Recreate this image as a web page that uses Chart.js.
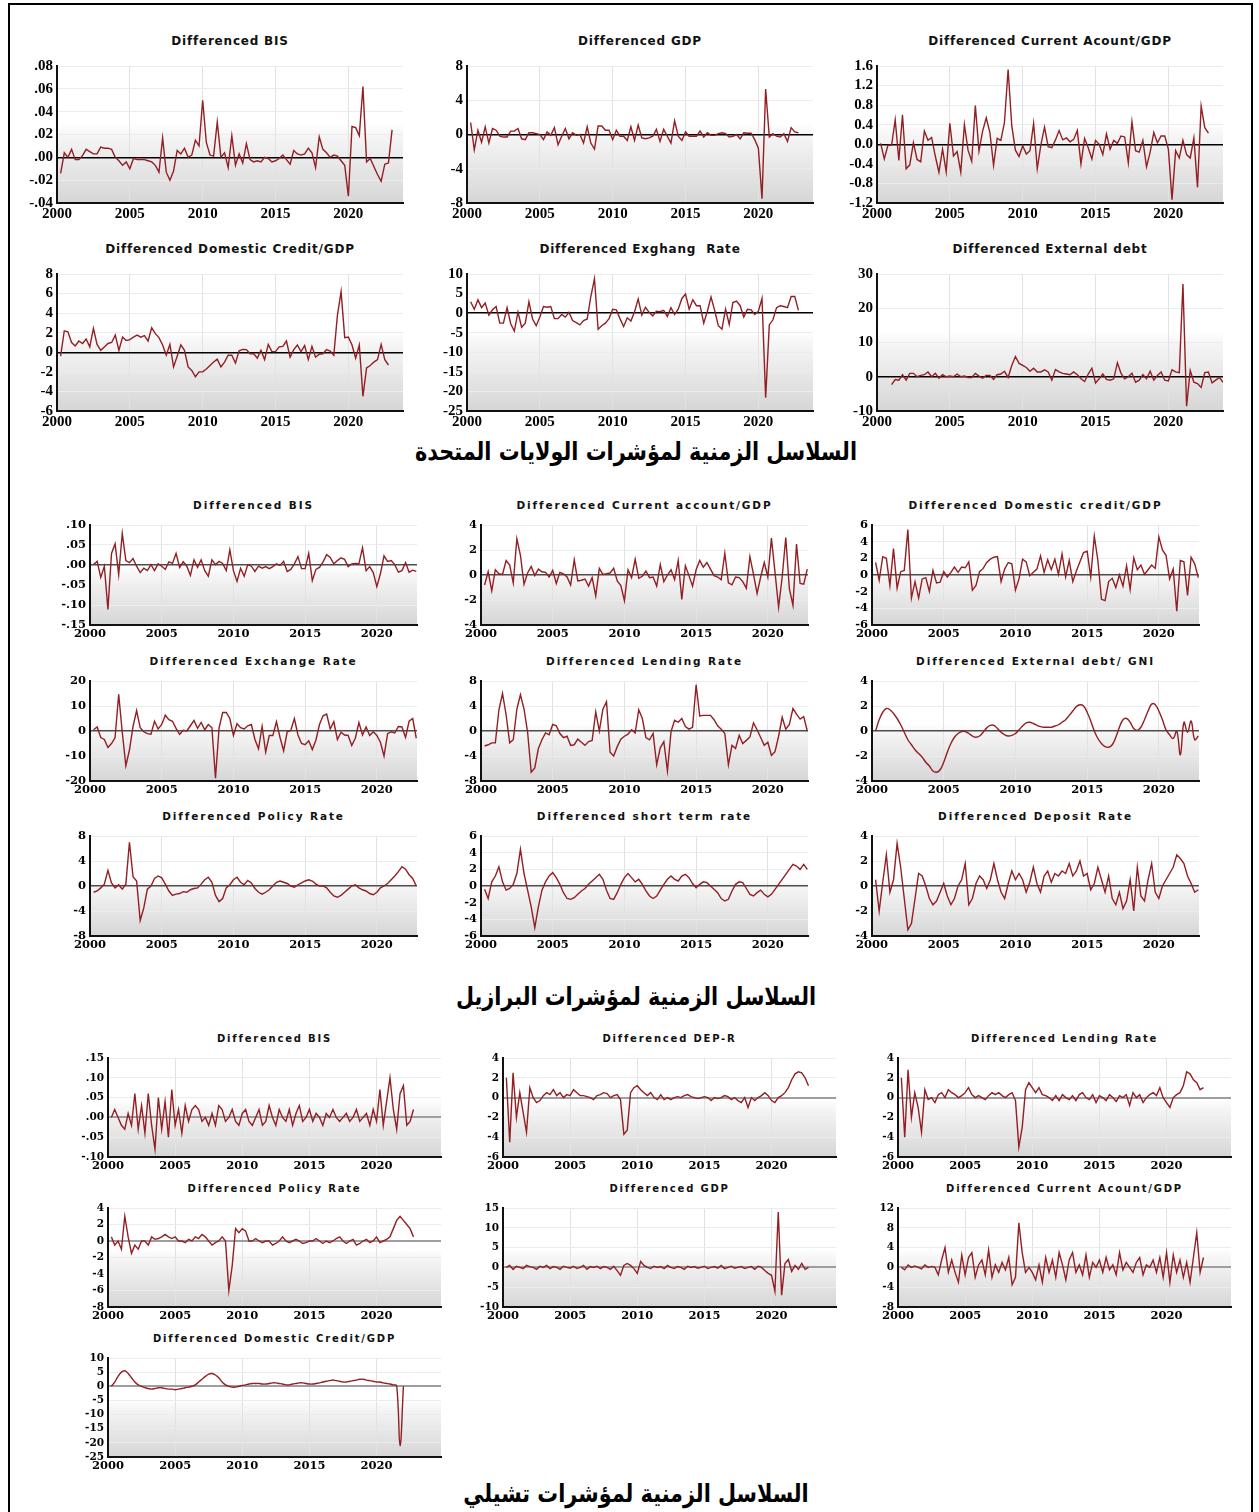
<!DOCTYPE html>
<html>
<head>
<meta charset="utf-8">
<title>Differenced macro-financial series</title>
<script src="https://cdn.jsdelivr.net/npm/chart.js@4/dist/chart.umd.min.js"></script>
<style>
  html, body { margin: 0; padding: 0; background: #fff; }
  body { position: relative; width: 1259px; height: 1512px; overflow: hidden; }
  .frame { position: absolute; left: 8px; top: 3px; width: 1245px; height: 1600px; border: 2px solid #000; box-sizing: border-box; }
  canvas { position: absolute; }
  .ttl { position: absolute; white-space: pre; font-family: "DejaVu Sans", Verdana, sans-serif; font-weight: bold; color: #111; transform: translateX(-50%); line-height: 16px; }
  .ar { position: absolute; left: 636px; transform: translateX(-50%) scaleX(0.83); white-space: nowrap; direction: rtl; font-family: "DejaVu Sans", sans-serif; font-weight: bold; font-size: 25px; line-height: 30px; color: #000; }
</style>
</head>
<body>
<div class="frame"></div>
<div class="ar" style="top:437px">السلاسل الزمنية لمؤشرات الولايات المتحدة</div>
<div class="ar" style="top:982px">السلاسل الزمنية لمؤشرات البرازيل</div>
<div class="ar" style="top:1479px">السلاسل الزمنية لمؤشرات تشيلي</div>
<script>
// ---------- x-axis tick labels (years) ----------
const yearTicks = [2000, 2005, 2010, 2015, 2020];

// ---------- y-axis tick labels ----------
const usBisTicks  = [".08", ".06", ".04", ".02", ".00", "-.02", "-.04"];
const usGdpTicks  = ["8", "4", "0", "-4", "-8"];
const usCaTicks   = ["1.6", "1.2", "0.8", "0.4", "0.0", "-0.4", "-0.8", "-1.2"];
const usDcTicks   = ["8", "6", "4", "2", "0", "-2", "-4", "-6"];
const usExTicks   = ["10", "5", "0", "-5", "-10", "-15", "-20", "-25"];
const usEdTicks   = ["30", "20", "10", "0", "-10"];

const brBisTicks  = [".10", ".05", ".00", "-.05", "-.10", "-.15"];
const brCaTicks   = ["4", "2", "0", "-2", "-4"];
const brDcTicks   = ["6", "4", "2", "0", "-2", "-4", "-6"];
const brExTicks   = ["20", "10", "0", "-10", "-20"];
const brLrTicks   = ["8", "4", "0", "-4", "-8"];
const brEdTicks   = ["4", "2", "0", "-2", "-4"];
const brPolTicks  = ["8", "4", "0", "-4", "-8"];
const brStTicks   = ["6", "4", "2", "0", "-2", "-4", "-6"];
const brDepTicks  = ["4", "2", "0", "-2", "-4"];

const clBisTicks  = [".15", ".10", ".05", ".00", "-.05", "-.10"];
const clDepTicks  = ["4", "2", "0", "-2", "-4", "-6"];
const clLrTicks   = ["4", "2", "0", "-2", "-4", "-6"];
const clPolTicks  = ["4", "2", "0", "-2", "-4", "-6", "-8"];
const clGdpTicks  = ["15", "10", "5", "0", "-5", "-10"];
const clCaTicks   = ["12", "8", "4", "0", "-4", "-8"];
const clDcTicks   = ["10", "5", "0", "-5", "-10", "-15", "-20", "-25"];

// ---------- quarterly series (first differences) ----------
// United States, from 2000Q2
const usBIS = [-0.014, 0.004, 0.0, 0.007, -0.002, -0.002, 0.0015, 0.007, 0.005, 0.003,
  0.003, 0.009, 0.008, 0.008, 0.007, 0.0, -0.003, -0.007, -0.004, -0.010,
  -0.001, -0.002, -0.002, -0.002, -0.003, -0.004, -0.007, -0.013, 0.017, -0.013,
  -0.020, -0.012, 0.006, 0.003, 0.008, 0.0, 0.002, 0.015, 0.010, 0.050,
  0.013, 0.002, 0.001, 0.031, 0.0, 0.004, -0.009, 0.019, -0.007, 0.003,
  -0.005, 0.012, -0.002, -0.004, -0.003, -0.004, 0.0, -0.001, -0.004, -0.003,
  -0.001, 0.002, -0.002, -0.006, 0.006, 0.003, 0.002, 0.003, 0.008, 0.004,
  -0.009, 0.018, 0.007, 0.004, 0.0, 0.002, 0.001, -0.003, -0.007, -0.034,
  0.027, 0.026, 0.019, 0.062, -0.004, -0.001, -0.008, -0.015, -0.021, -0.006,
  -0.005, 0.024];
const usGDP = [1.4, -1.8, 0.5, -0.9, 0.9, -1.0, 0.7, 0.5, -0.2, -0.3,
  -0.3, 0.4, 0.4, 0.7, -0.5, -0.6, 0.2, 0.2, 0.1, 0.0,
  -0.6, 0.3, -0.1, 0.8, -1.2, -0.2, 0.7, -0.5, 0.2, -0.1,
  0.0, -1.0, 0.9, -1.0, -1.7, 1.0, 1.0, 0.5, 0.5, -0.6,
  0.5, -0.2, -0.2, -0.7, 0.9, -0.7, 1.1, -0.4, -0.5, -0.4,
  -0.2, 0.6, -0.8, 0.6, -0.2, -1.0, 1.6, -0.2, -0.7, 0.3,
  -0.2, -0.2, -0.2, 0.4, -0.3, 0.2, -0.1, -0.1, 0.1, 0.2,
  0.1, -0.3, -0.2, 0.0, -0.5, 0.2, 0.15, 0.15, -0.6, -1.6,
  -7.5, 5.3, -0.3, 0.1, -0.2, -0.3, 0.1, -0.8, 0.8, 0.3, 0.2];
const usCA = [0.02, -0.3, -0.02, -0.02, 0.5, -0.33, 0.6, -0.5, -0.42, 0.03,
  -0.31, -0.36, 0.27, 0.08, 0.14, -0.24, -0.57, -0.1, -0.56, 0.43,
  -0.24, -0.15, -0.57, 0.4, -0.12, -0.35, 0.79, -0.14, 0.27, 0.54,
  0.24, -0.43, 0.12, 0.08, 0.45, 1.53, 0.38, -0.12, -0.25, -0.03,
  -0.2, -0.13, 0.43, -0.5, -0.01, 0.35, -0.05, -0.07, 0.09, 0.28,
  0.09, 0.13, 0.05, 0.1, 0.28, -0.4, 0.12, -0.07, -0.3, 0.08,
  0.0, -0.21, 0.21, -0.1, 0.08, 0.02, 0.17, 0.15, -0.38, 0.46,
  -0.13, -0.16, 0.08, -0.46, -0.16, 0.24, 0.03, 0.17, 0.17, -0.1,
  -1.13, -0.13, -0.28, 0.08, -0.21, -0.28, 0.13, -0.88, 0.78, 0.34, 0.23];
const usDC = [-0.4, 2.2, 2.1, 1.0, 0.65, 1.15, 0.9, 1.35, 0.55, 2.45,
  0.8, 0.2, 0.55, 0.9, 1.0, 1.75, 0.2, 1.55, 1.2, 1.3,
  1.55, 1.75, 1.55, 1.7, 1.15, 2.5, 1.9, 1.5, 0.75, -0.3,
  0.8, -1.5, -0.4, 0.75, 0.2, -1.5, -1.85, -2.5, -2.0, -2.0,
  -1.7, -1.35, -1.0, -0.7, -1.5, -1.0, -0.3, -0.3, -1.1, 0.15,
  0.3, 0.27, -0.15, -0.15, -0.6, 0.2, -0.75, 0.8, 0.07, 0.07,
  0.55, 0.6, 1.15, -0.5, 0.27, 0.75, 0.07, 0.68, -0.75, 0.6,
  -0.5, -0.2, -0.15, 0.27, 0.13, -0.3, 3.8, 6.2, 1.5, 1.55,
  0.75, -0.6, 0.75, -4.5, -1.6, -1.35, -1.0, -0.75, 0.8, -0.75, -1.3];
const usEX = [2.9, 1.0, 3.4, 1.4, 2.6, -0.5, 0.85, 1.7, -2.55, -2.55,
  1.4, -2.7, -4.6, 0.3, -3.6, -2.55, 2.9, -1.5, -3.2, -1.0,
  1.7, 1.5, 1.7, -1.4, -1.4, -0.35, -1.0, 0.2, -1.9, -2.4,
  -3.0, -1.9, -1.5, 4.25, 8.8, -4.1, -3.2, -2.55, -1.4, 1.0,
  0.85, -1.4, -3.4, -1.2, -2.0, 0.35, 3.6, -0.5, 1.5, 0.2,
  -0.7, 0.5, 0.35, 0.7, -0.85, 1.4, -0.35, 1.0, 3.75, 4.9,
  1.0, 3.4, 1.9, 1.9, -2.55, 0.5, 4.1, 0.7, -3.2, -4.1,
  1.0, -2.9, 2.7, 3.1, 1.9, -1.0, 1.0, 0.85, -0.35, 0.5,
  3.75, -21.6, -3.0, -1.7, 1.4, 1.9, 1.7, 1.4, 4.25, 4.25, 0.7];
// United States external debt, from 2001Q1
const usED = [-2.3, -0.8, -1.0, 0.6, -1.0, 1.0, 1.0, 0.0, 0.4, 0.6,
  1.4, 0.0, 1.0, -0.4, 0.6, 0.0, 0.2, 0.0, 0.8, 0.0,
  0.2, -0.2, -0.2, 1.0, 0.2, -0.4, 0.4, 0.4, -0.8, 0.6,
  0.8, 1.6, -0.2, 3.3, 5.9, 3.9, 3.3, 2.7, 1.6, 2.5,
  1.4, 1.4, 2.0, 1.4, -1.0, 2.1, 1.4, 1.0, 0.8, 0.6,
  1.4, 0.6, -0.6, -1.4, 0.8, 2.5, -1.8, -0.6, 0.8, -0.8,
  -1.0, -0.6, 4.1, 1.0, -0.6, 0.0, 1.0, -1.6, -1.0, 0.6,
  -0.6, 1.6, -1.0, 0.4, 1.4, -1.0, -1.2, 2.0, 1.4, 1.2,
  27.1, -8.6, 1.8, -1.6, -2.0, -3.1, 1.2, 1.4, -1.8, -1.0,
  -0.2, -1.6];

// Brazil, from 2000Q2
const brBIS = [0.001, 0.009, -0.031, -0.003, -0.111, 0.029, 0.053, -0.024, 0.079, 0.011,
  0.006, 0.016, -0.003, -0.019, -0.008, -0.014, 0.001, -0.014, 0.003, -0.003,
  -0.011, 0.008, 0.004, 0.029, -0.006, 0.008, -0.003, -0.026, 0.013, -0.006,
  0.013, -0.014, -0.028, 0.013, 0.001, 0.009, 0.004, -0.014, 0.038, -0.014,
  -0.041, -0.008, -0.028, 0.001, -0.003, -0.016, -0.003, -0.008, -0.004, -0.009,
  -0.004, 0.003, -0.001, 0.009, -0.016, -0.011, 0.003, 0.021, -0.009, -0.009,
  0.029, -0.039, -0.011, -0.006, 0.008, 0.026, 0.019, 0.003, 0.011, 0.018,
  0.014, -0.004, 0.003, 0.004, 0.003, 0.043, -0.014, -0.004, -0.019, -0.054,
  -0.022, 0.023, 0.009, 0.011, 0.001, -0.018, -0.014, 0.006, -0.018, -0.013, -0.016];
const brCA = [-0.8, 0.26, -1.26, 0.42, 0.1, 0.05, 1.16, 0.79, -0.63, 2.9,
  1.58, -0.74, 0.16, 0.68, -0.05, 0.47, 0.26, 0.21, -0.16, 0.37,
  -0.68, 0.21, 0.1, -0.16, -0.8, 1.21, -0.47, -0.42, -0.32, -0.89,
  -0.21, -1.68, 0.53, 0.05, 0.1, 0.16, 0.53, -0.47, -0.84, -2.05,
  0.42, -0.21, 1.26, -0.26, -0.1, 0.32, -0.21, -0.16, -0.89, 0.84,
  -0.53, 0.0, 0.42, -0.37, 1.16, -1.95, 0.74, -0.05, -0.89, 0.42,
  1.16, 0.63, 1.0, 0.47, -0.05, -0.16, -0.37, 1.74, -0.63, -0.79,
  -0.16, -0.21, -0.53, -1.05, 1.47, 0.05, -1.47, -0.16, 1.0, -0.16,
  2.95, 0.21, -2.58, -0.16, 3.0, -1.1, -2.42, 2.47, -0.68, -0.74, 0.47];
const brDC = [1.5, -0.63, 2.2, 2.0, -1.26, 3.16, -1.58, 0.4, 0.55, 5.45,
  -2.77, -0.8, -2.77, -0.47, -0.32, -1.98, 0.55, -0.95, -0.87, 0.4,
  -0.24, 0.32, 0.95, 0.32, 0.95, 0.87, 1.58, -1.82, -1.26, 0.4,
  0.79, 1.5, 1.9, 2.13, 2.2, -0.8, 0.71, 1.5, 1.34, -1.82,
  -0.47, 1.9, 1.58, -0.08, 0.32, 0.71, 2.29, 0.32, 1.82, 0.63,
  1.9, 0.08, 2.53, -0.24, 1.74, -0.8, 0.47, 1.58, 2.69, 2.85,
  -0.24, 4.66, 1.74, -2.92, -3.08, -0.79, -0.4, -1.5, 0.0, -1.34,
  1.1, -1.74, 2.05, 0.63, 1.19, 0.08, 0.63, 1.19, 0.79, 4.58,
  3.0, 2.37, -0.47, 0.71, -4.35, 1.74, 1.58, -2.45, 2.13, 1.34, -0.32];
const brEX = [0.5, 1.6, -2.6, -3.4, -6.6, -5.0, -2.6, 14.7, -0.5, -13.9,
  -7.6, 1.8, 8.2, 1.3, -0.3, -1.05, -1.3, 3.9, 0.8, 2.6,
  6.3, 4.5, 3.9, 1.05, -1.3, 0.26, 0.0, 2.1, 4.2, 1.05,
  3.4, 0.5, 2.6, 1.3, -18.9, 1.3, 7.4, 7.4, 5.0, -1.8,
  2.9, 1.3, 0.8, 2.1, 2.6, -3.4, -7.1, 1.8, -8.4, -1.8,
  -1.8, 3.7, -2.6, -7.9, -0.3, 0.26, 5.0, -1.6, -5.0, -5.5,
  -3.9, -7.4, -3.7, 2.6, 6.1, 6.8, 0.8, 3.7, -3.4, -0.5,
  -1.6, -1.8, -5.8, -2.9, 3.4, -1.6, 1.6, -1.8, -0.3, -1.8,
  -4.5, -10.0, -1.05, -0.3, -0.8, 1.8, 1.6, -2.6, 3.9, 5.0, -2.9];
const brLR = [-2.4, -2.2, -1.9, -1.9, 3.4, 6.0, 2.6, -1.9, -1.4, 3.5,
  5.8, 3.5, -0.2, -6.6, -5.9, -2.8, -1.4, -0.3, -0.6, 1.05,
  0.84, -0.4, -1.05, -0.84, -2.3, -2.2, -1.3, -1.8, -2.3, -1.7,
  -1.5, 3.05, 0.0, 3.5, 4.7, -3.4, -4.0, -2.5, -1.3, -0.84,
  -0.5, 0.2, -0.3, 3.4, 2.0, -1.05, -1.4, -0.4, -5.4, -2.7,
  -1.7, -6.4, -0.1, 1.7, 1.4, 2.0, 0.7, 0.3, 0.6, 7.4,
  2.4, 2.5, 2.5, 2.5, 1.8, 0.84, 0.3, -0.4, -5.4, -2.3,
  -2.8, -0.7, -2.0, -1.5, -0.95, 1.3, 0.2, -1.05, -2.3, -1.8,
  -3.9, -3.3, -0.84, 2.2, 0.3, 1.05, 3.6, 2.7, 1.9, 2.3, 0.0];
const brEDG = [0.0, 0.9, 1.5, 1.8, 1.7, 1.4, 1.0, 0.5, -0.1, -0.7,
  -1.1, -1.5, -1.8, -2.1, -2.5, -2.8, -3.2, -3.3, -3.1, -2.5,
  -1.7, -1.0, -0.5, -0.2, -0.05, -0.05, -0.2, -0.4, -0.5, -0.4,
  -0.1, 0.25, 0.45, 0.45, 0.2, -0.1, -0.3, -0.4, -0.35, -0.2,
  0.1, 0.4, 0.65, 0.7, 0.6, 0.45, 0.35, 0.3, 0.3, 0.3,
  0.4, 0.5, 0.7, 0.9, 1.25, 1.6, 1.95, 2.1, 2.0, 1.5,
  0.8, 0.0, -0.6, -1.0, -1.25, -1.3, -1.1, -0.5, 0.3, 0.9,
  1.0, 0.7, 0.2, 0.05, 0.3, 0.9, 1.6, 2.15, 2.1, 1.6,
  0.9, 0.1, -0.3, -0.6, 0.0, -1.9, 0.7, -0.1, 0.8, -0.7, -0.4];
const brPOL = [-1.0, -0.8, -0.3, 0.3, 2.5, 0.5, -0.3, 0.2, -0.5, 0.3,
  7.0, 1.5, 0.8, -5.5, -3.5, -0.5, 0.0, 1.2, 1.6, 1.3,
  0.3, -0.8, -1.5, -1.3, -1.2, -0.9, -1.0, -0.6, -0.4, -0.3,
  0.3, 1.0, 1.4, 0.6, -1.5, -2.5, -2.0, -0.3, 0.2, 1.0,
  1.4, 0.6, 0.2, 0.9, 0.5, -0.4, -1.0, -1.3, -1.0, -0.6,
  0.0, 0.6, 0.8, 0.6, 0.4, 0.0, -0.2, 0.2, 0.5, 0.8,
  1.0, 0.8, 0.3, 0.0, 0.0, -0.3, -1.0, -1.6, -1.8, -1.5,
  -1.0, -0.5, 0.0, 0.2, -0.3, -0.6, -0.8, -1.2, -1.4, -1.0,
  -0.3, 0.0, 0.4, 1.0, 1.6, 2.3, 3.1, 2.7, 1.8, 1.2, 0.0];
const brST = [-0.4, -1.5, 0.5, 1.2, 2.3, 0.5, -0.5, -0.3, 0.2, 1.5,
  4.4, 1.5, -0.5, -2.5, -5.0, -2.5, -0.5, 0.5, 1.2, 1.6,
  1.0, 0.2, -0.8, -1.5, -1.6, -1.4, -1.0, -0.6, -0.3, 0.2,
  0.6, 1.0, 1.4, 0.8, -0.5, -1.5, -1.6, -0.8, 0.2, 1.0,
  1.5, 1.0, 0.5, 0.8, 0.2, -0.6, -1.2, -1.5, -1.2, -0.5,
  0.2, 0.8, 1.2, 0.8, 0.6, 1.2, 1.4, 1.0, 0.3, -0.2,
  0.2, 0.5, 0.4, 0.0, -0.4, -0.8, -1.5, -1.8, -1.6, -0.6,
  0.2, 0.5, 0.4, -0.3, -1.0, -1.2, -0.8, -0.5, -1.0, -1.3,
  -1.0, -0.4, 0.2, 0.8, 1.4, 2.0, 2.6, 2.4, 2.0, 2.6, 2.0];
const brDEP = [0.5, -2.0, 0.3, 2.5, -0.5, 0.5, 3.4, 1.5, -1.0, -3.5,
  -3.0, -1.0, 1.0, 0.8, 0.0, -1.0, -1.5, -1.2, -0.5, 0.2,
  -0.8, -1.5, -1.0, 0.0, 0.5, 1.8, -1.5, -1.0, 0.2, 0.8,
  0.5, -0.2, 0.5, 1.8, 0.5, -0.5, -1.0, 0.2, 1.2, 0.5,
  1.0, 0.5, -0.5, 0.3, 1.5, 0.2, -0.5, 0.8, 1.2, 0.3,
  1.0, 0.8, 1.2, 1.0, 1.8, 0.8, 1.2, 2.0, 0.8, 1.0,
  -0.3, 0.2, 1.5, 0.5, -0.5, 0.8, -1.0, -1.5, -0.5, -1.8,
  -1.2, 0.5, -2.0, 1.5, -0.8, -1.2, 0.5, 1.8, -0.5, -1.0,
  0.0, 0.5, 1.0, 1.5, 2.5, 2.2, 1.8, 0.8, 0.2, -0.5, -0.3];

// Chile, from 2000Q2
const clBIS = [0.0, 0.02, 0.0, -0.02, -0.03, 0.01, -0.02, 0.06, -0.03, 0.03,
  -0.04, 0.06, -0.02, -0.08, 0.05, -0.03, 0.04, -0.05, 0.07, -0.02,
  0.02, -0.04, 0.03, -0.01, 0.02, 0.03, 0.02, -0.01, 0.0, -0.02,
  0.01, -0.02, 0.03, 0.02, -0.01, 0.0, 0.02, -0.01, -0.02, 0.01,
  0.02, -0.01, -0.02, 0.0, 0.02, -0.02, -0.01, 0.03, 0.0, -0.02,
  0.02, 0.0, -0.01, 0.02, -0.02, 0.01, 0.03, -0.01, 0.0, 0.02,
  -0.01, 0.01, 0.0, -0.02, 0.01, 0.0, 0.02, 0.0, -0.01, 0.0,
  0.01, -0.01, 0.0, 0.02, -0.01, 0.0, 0.01, -0.02, 0.02, -0.01,
  0.07, -0.02, 0.04, 0.10, 0.02, -0.03, 0.06, 0.08, -0.02, -0.01, 0.02];
const clDEP = [2.0, -4.5, 2.5, -2.0, 0.5, -1.5, -3.5, 1.0, 0.0, -0.5,
  -0.3, 0.2, 0.5, 0.3, 0.8, 0.2, 0.5, 0.0, 0.3, 0.2,
  0.8, 0.5, 0.2, 0.2, 0.1, 0.0, -0.2, 0.2, 0.3, 0.5,
  0.4, 0.0, 0.2, 0.3, -0.2, -3.7, -3.3, 0.5, 1.0, 1.2,
  0.8, 0.5, 0.2, 0.5, 0.0, -0.2, 0.3, -0.2, 0.0, -0.2,
  0.0, 0.1, 0.0, 0.2, 0.3, 0.1, 0.0, -0.1, 0.0, 0.1,
  0.0, -0.3, 0.0, -0.1, 0.0, 0.2, 0.1, -0.2, 0.0, -0.3,
  -0.5, 0.0, -1.0, 0.0, -0.3, 0.0, 0.2, 0.5, 0.2, -0.3,
  -0.5, 0.0, 0.2, 0.5, 1.0, 1.8, 2.4, 2.6, 2.5, 2.0, 1.2];
const clLR = [2.0, -4.0, 2.8, -2.0, 0.5, -1.0, -3.5, 0.8, -0.2, 0.0,
  -0.5, 0.3, 0.5, 0.0, 0.8, 0.5, 0.3, 0.0, 0.2, 0.5,
  1.0, 0.3, 0.0, 0.2, 0.0, -0.2, 0.2, 0.5, 0.3, 0.5,
  0.2, 0.0, 0.3, 0.5, -0.3, -5.0, -3.0, 0.8, 1.5, 1.0,
  0.5, 1.0, 0.3, 0.2, 0.0, -0.3, 0.2, -0.3, 0.3, 0.0,
  -0.2, 0.2, -0.3, 0.3, 0.5, 0.0, -0.2, 0.3, -0.5, 0.2,
  0.0, -0.3, 0.3, 0.0, -0.4, 0.2, 0.0, 0.3, -0.8, 0.5,
  0.0, 0.3, -0.5, 0.0, 0.3, 0.5, 0.2, 1.0, 0.0, -0.5,
  -1.0, 0.0, 0.3, 0.5, 1.2, 2.6, 2.4, 1.8, 1.5, 0.8, 1.0];
const clPOL = [0.5, -0.5, 0.0, -1.0, 3.0, 0.5, -1.5, -0.5, -1.0, 0.0,
  0.0, -0.5, 0.5, 0.2, 0.3, 0.5, 0.8, 0.5, 0.3, 0.5,
  0.0, 0.0, -0.2, 0.2, 0.0, 0.5, 0.3, 0.8, 0.5, 0.0,
  -0.5, -0.2, 0.0, 0.5, 0.0, -6.0, -3.0, 1.5, 1.0, 1.5,
  1.2, 0.0, 0.0, 0.3, 0.0, -0.2, 0.0, 0.0, -0.5, -0.3,
  0.0, 0.5, 0.0, -0.2, 0.0, 0.2, 0.0, -0.3, -0.2, 0.0,
  0.0, 0.3, 0.0, -0.3, 0.0, -0.2, 0.0, 0.3, 0.5, 0.0,
  -0.3, 0.0, 0.2, -0.5, -0.3, 0.0, 0.2, -0.2, 0.0, 0.5,
  -0.2, 0.0, 0.2, 0.5, 1.5, 2.5, 3.0, 2.5, 2.0, 1.5, 0.5];
const clGDP = [0.0, 0.5, -0.5, 0.3, 0.0, -0.3, 0.5, 0.2, 0.0, -0.5,
  0.3, 0.0, 0.5, -0.3, 0.2, 0.0, -0.5, 0.3, 0.0, -0.2,
  0.3, -0.3, 0.0, 0.5, -0.5, 0.2, 0.0, 0.3, -0.3, 0.2,
  0.0, -0.5, 0.3, -0.8, -2.0, 0.5, 1.0, 0.5, -0.3, -1.5,
  1.5, 0.5, 0.0, -0.3, 0.3, 0.0, 0.2, -0.3, 0.5, 0.0,
  -0.3, 0.2, 0.0, -0.5, 0.3, 0.0, 0.2, -0.2, 0.0, 0.3,
  -0.3, 0.0, 0.2, -0.2, 0.5, -0.3, 0.0, 0.3, -0.2, 0.0,
  0.2, -0.3, 0.0, 0.2, -0.5, 0.3, 0.0, -0.8, -1.5, -2.0,
  -6.0, 14.0, -7.0, 1.0, 2.0, -1.0, 0.5, -0.5, 1.0, -0.5, 0.0];
const clCA = [0.0, -0.5, 0.5, 0.0, 0.3, 0.0, -0.3, 0.5, 0.0, 0.2,
  0.0, -1.5, 1.5, 4.0, -1.0, 1.5, -1.0, -3.0, 2.5, -1.5,
  2.0, 3.0, -2.0, 0.5, 1.5, -1.5, 3.5, -2.0, 0.5, -1.0,
  1.0, -0.5, 2.0, -3.5, -2.0, 9.0, 3.0, -1.0, 0.0, -1.0,
  -2.5, 0.5, -3.0, 2.0, -1.0, 1.5, -2.0, 3.0, 0.5, -2.5,
  1.5, 3.0, -1.0, 0.5, -1.5, 2.5, -2.0, 1.0, 0.0, 1.5,
  -1.0, 2.0, -0.5, 0.5, -1.5, 3.0, -0.5, 1.0, 0.0, -1.0,
  1.0, 2.0, -1.5, 0.5, 0.0, 1.5, -1.0, 2.0, -2.0, 3.0,
  -3.0, 2.5, -1.0, 1.5, -2.0, 1.0, -3.0, 2.0, 7.0, -1.0, 2.0];
const clDC = [0.0, 1.5, 3.5, 5.0, 5.5, 4.5, 3.0, 1.5, 0.5, 0.0,
  -0.5, -0.8, -1.0, -0.8, -0.5, -0.5, -0.8, -1.0, -1.0, -1.2,
  -1.0, -0.8, -0.5, -0.3, 0.0, 0.5, 1.5, 2.5, 3.5, 4.3,
  4.5, 4.0, 3.0, 1.5, 0.5, 0.0, -0.3, -0.3, 0.0, 0.3,
  0.5, 0.8, 1.0, 1.0, 1.0, 0.8, 0.8, 1.0, 1.2, 1.2,
  1.0, 0.8, 0.5, 0.5, 0.8, 1.0, 1.2, 1.2, 1.0, 0.8,
  0.8, 1.0, 1.2, 1.5, 1.8, 2.0, 2.2, 2.0, 1.8, 1.5,
  1.5, 1.8, 2.0, 2.2, 2.5, 2.5, 2.2, 2.0, 1.8, 1.5,
  1.5, 1.2, 1.0, 0.8, 0.5, 0.2, -21.0, 0.0];

// ---------- panel layout ----------
const layout = {
  us: { cols: [57, 467, 877], rows: [65, 273], plotW: 346, plotH: 138, xMax: 2023.75,
        titleGap: 24, titleSize: 12, titleSpacing: 0.8,
        tickFamily: '"Liberation Serif", "Times New Roman", serif', yFont: 15, xFont: 15, xPad: 2,
        zero: '#000000', zeroW: 1.5 },
  br: { cols: [90, 481, 872], rows: [525, 681, 836], plotW: 327, plotH: 100, xMax: 2022.8,
        titleGap: 20, titleSize: 10.5, titleSpacing: 1.9,
        tickFamily: '"DejaVu Serif", serif', yFont: 11.5, xFont: 11.5, xPad: 2,
        zero: '#4d4d4d', zeroW: 1.5 },
  cl: { cols: [108, 503, 898], rows: [1058, 1208, 1358], plotW: 333, plotH: 99, xMax: 2024.8,
        titleGap: 19, titleSize: 10, titleSpacing: 1.8,
        tickFamily: '"DejaVu Serif", serif', yFont: 10.5, xFont: 11.5, xPad: 2,
        zero: '#9e9e9e', zeroW: 2 }
};

const panels = [
  { g: 'us', c: 0, r: 0, title: 'Differenced BIS', data: usBIS, start: 2000.25, ticks: usBisTicks },
  { g: 'us', c: 1, r: 0, title: 'Differenced GDP', data: usGDP, start: 2000.25, ticks: usGdpTicks },
  { g: 'us', c: 2, r: 0, title: 'Differenced Current Acount/GDP', data: usCA, start: 2000.25, ticks: usCaTicks },
  { g: 'us', c: 0, r: 1, title: 'Differenced Domestic Credit/GDP', data: usDC, start: 2000.25, ticks: usDcTicks },
  { g: 'us', c: 1, r: 1, title: 'Differenced Exghang  Rate', data: usEX, start: 2000.25, ticks: usExTicks },
  { g: 'us', c: 2, r: 1, title: 'Differenced External debt', data: usED, start: 2001.0, ticks: usEdTicks },

  { g: 'br', c: 0, r: 0, title: 'Differenced BIS', data: brBIS, start: 2000.25, ticks: brBisTicks },
  { g: 'br', c: 1, r: 0, title: 'Differenced Current account/GDP', data: brCA, start: 2000.25, ticks: brCaTicks },
  { g: 'br', c: 2, r: 0, title: 'Differenced Domestic credit/GDP', data: brDC, start: 2000.25, ticks: brDcTicks },
  { g: 'br', c: 0, r: 1, title: 'Differenced Exchange Rate', data: brEX, start: 2000.25, ticks: brExTicks },
  { g: 'br', c: 1, r: 1, title: 'Differenced Lending Rate', data: brLR, start: 2000.25, ticks: brLrTicks },
  { g: 'br', c: 2, r: 1, title: 'Differenced External debt/ GNI', data: brEDG, start: 2000.25, ticks: brEdTicks, smooth: true },
  { g: 'br', c: 0, r: 2, title: 'Differenced Policy Rate', data: brPOL, start: 2000.25, ticks: brPolTicks },
  { g: 'br', c: 1, r: 2, title: 'Differenced short term rate', data: brST, start: 2000.25, ticks: brStTicks },
  { g: 'br', c: 2, r: 2, title: 'Differenced Deposit Rate', data: brDEP, start: 2000.25, ticks: brDepTicks },

  { g: 'cl', c: 0, r: 0, title: 'Differenced BIS', data: clBIS, start: 2000.25, ticks: clBisTicks },
  { g: 'cl', c: 1, r: 0, title: 'Differenced DEP-R', data: clDEP, start: 2000.25, ticks: clDepTicks },
  { g: 'cl', c: 2, r: 0, title: 'Differenced Lending Rate', data: clLR, start: 2000.25, ticks: clLrTicks },
  { g: 'cl', c: 0, r: 1, title: 'Differenced Policy Rate', data: clPOL, start: 2000.25, ticks: clPolTicks },
  { g: 'cl', c: 1, r: 1, title: 'Differenced GDP', data: clGDP, start: 2000.25, ticks: clGdpTicks },
  { g: 'cl', c: 2, r: 1, title: 'Differenced Current Acount/GDP', data: clCA, start: 2000.25, ticks: clCaTicks },
  { g: 'cl', c: 0, r: 2, title: 'Differenced Domestic Credit/GDP', data: clDC, start: 2000.25, ticks: clDcTicks, smooth: true }
];

// grey shading of the plotting area, lighter at the top
const plotShade = {
  id: 'plotShade',
  beforeDraw(chart) {
    const { ctx, chartArea: a } = chart;
    const grad = ctx.createLinearGradient(0, a.top, 0, a.bottom);
    grad.addColorStop(0, '#ffffff');
    grad.addColorStop(0.42, '#ffffff');
    grad.addColorStop(0.5, '#f6f6f6');
    grad.addColorStop(1, '#d6d6d6');
    ctx.save();
    ctx.fillStyle = grad;
    ctx.fillRect(a.left, a.top, a.width, a.height);
    ctx.restore();
  }
};

const AXIS_W = 52, PAD_TOP = 12, PAD_RIGHT = 8, AXIS_H = 24;

function drawPanel(p) {
  const L = layout[p.g];
  const plotLeft = L.cols[p.c];
  const plotTop = L.rows[p.r];

  const title = document.createElement('div');
  title.className = 'ttl';
  title.textContent = p.title;
  title.style.left = (plotLeft + L.plotW / 2) + 'px';
  title.style.top = (plotTop - L.titleGap - 8) + 'px';
  title.style.fontSize = L.titleSize + 'px';
  title.style.letterSpacing = L.titleSpacing + 'px';
  document.body.appendChild(title);

  const W = AXIS_W + L.plotW + PAD_RIGHT;
  const H = PAD_TOP + L.plotH + AXIS_H;
  const cv = document.createElement('canvas');
  cv.width = W; cv.height = H;
  cv.style.left = (plotLeft - AXIS_W) + 'px';
  cv.style.top = (plotTop - PAD_TOP) + 'px';
  cv.style.width = W + 'px';
  cv.style.height = H + 'px';
  document.body.appendChild(cv);

  const tickVals = p.ticks.map(Number);
  const labelOf = new Map(tickVals.map((v, i) => [v, p.ticks[i]]));
  const points = p.data.map((v, i) => ({ x: p.start + i * 0.25, y: v }));
  const tickFont = size => ({ family: L.tickFamily, weight: 'bold', size: size });

  new Chart(cv, {
    type: 'line',
    data: {
      datasets: [{
        data: points,
        borderColor: '#921f24',
        borderWidth: 1.4,
        pointRadius: 0,
        fill: false,
        tension: p.smooth ? 0.4 : 0
      }]
    },
    options: {
      responsive: false,
      animation: false,
      events: [],
      layout: { padding: { top: PAD_TOP, right: PAD_RIGHT, left: 0, bottom: 0 } },
      plugins: { legend: { display: false }, tooltip: { enabled: false }, title: { display: false } },
      scales: {
        x: {
          type: 'linear',
          min: 2000,
          max: L.xMax,
          afterBuildTicks: s => { s.ticks = yearTicks.map(v => ({ value: v })); },
          afterFit: s => { s.height = AXIS_H; },
          ticks: {
            autoSkip: false, maxRotation: 0, padding: L.xPad, color: '#000',
            font: tickFont(L.xFont),
            callback: v => String(v)
          },
          grid: { drawTicks: false, color: '#e2e2e2', lineWidth: 1 },
          border: { display: true, color: '#111', width: 2 }
        },
        y: {
          min: Math.min(...tickVals),
          max: Math.max(...tickVals),
          afterBuildTicks: s => { s.ticks = tickVals.slice().sort((a, b) => a - b).map(v => ({ value: v })); },
          afterFit: s => { s.width = AXIS_W; },
          ticks: {
            autoSkip: false, padding: 4, color: '#000',
            font: tickFont(L.yFont),
            callback: v => labelOf.has(v) ? labelOf.get(v) : ''
          },
          grid: {
            drawTicks: false,
            color: c => (c.tick && c.tick.value === 0) ? L.zero : '#ececec',
            lineWidth: c => (c.tick && c.tick.value === 0) ? L.zeroW : 1
          },
          border: { display: true, color: '#111', width: 2 }
        }
      }
    },
    plugins: [plotShade]
  });
}

panels.forEach(drawPanel);
</script>
</body>
</html>
